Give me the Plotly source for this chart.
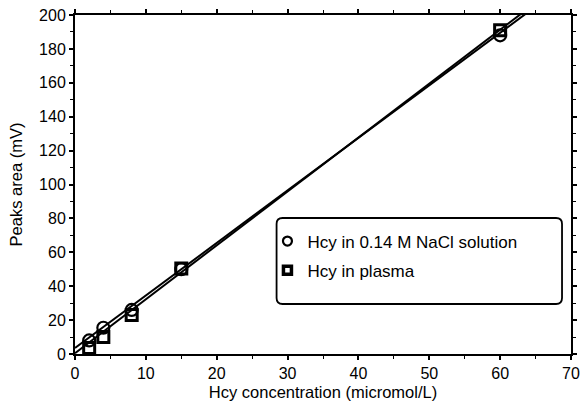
import plotly.graph_objects as go
import numpy as np

# Data
conc = [2, 4, 8, 15, 60]
nacl_area = [8, 15.5, 26, 50, 188]
plasma_area = [3.5, 10, 23, 50.5, 191]

# Regression lines (intercept, slope)
nacl_fit = (3.5, 3.1)
plasma_fit = (0.5, 3.18)
fit_x = [0, 70]

x_ticks = [0, 10, 20, 30, 40, 50, 60, 70]
y_ticks = [0, 20, 40, 60, 80, 100, 120, 140, 160, 180, 200]

series_names = ["Hcy in 0.14 M NaCl solution", "Hcy in plasma"]

FONT = "Liberation Sans, Arial, sans-serif"

fig = go.Figure()

for b, m in (nacl_fit, plasma_fit):
    fx = np.array(fit_x, dtype=float)
    fig.add_trace(go.Scatter(x=fx, y=b + m * fx, mode="lines",
                             line=dict(color="black", width=2),
                             showlegend=False, hoverinfo="skip"))

circle_style = dict(symbol="circle-open", color="black")
square_style = dict(symbol="square-open", color="black")

fig.add_trace(go.Scatter(x=conc, y=nacl_area, mode="markers", name=series_names[0],
                         marker=dict(size=12, line=dict(width=2.2, color="black"), **circle_style),
                         showlegend=False))
fig.add_trace(go.Scatter(x=conc, y=plasma_area, mode="markers", name=series_names[1],
                         marker=dict(size=11, line=dict(width=3, color="black"), **square_style),
                         showlegend=False))

# legend entries (smaller symbols, as in the reference legend)
fig.add_trace(go.Scatter(x=[None], y=[None], mode="markers", name=series_names[0],
                         marker=dict(size=9, line=dict(width=2.2, color="black"), **circle_style),
                         legendgroup="a"))
fig.add_trace(go.Scatter(x=[None], y=[None], mode="markers", name=series_names[1],
                         marker=dict(size=8, line=dict(width=3.5, color="black"), **square_style),
                         legendgroup="b"))

# rounded legend box (paper coords)
L, R, T, B = 0.4064, 0.9819, 0.4012, 0.1475
rx, ry = 0.012, 0.0177
path = (f"M {L+rx},{T} L {R-rx},{T} Q {R},{T} {R},{T-ry} "
        f"L {R},{B+ry} Q {R},{B} {R-rx},{B} L {L+rx},{B} Q {L},{B} {L},{B+ry} "
        f"L {L},{T-ry} Q {L},{T} {L+rx},{T} Z")
fig.add_shape(type="path", path=path, xref="paper", yref="paper",
              line=dict(color="black", width=1.8), fillcolor="white", layer="below")

axis_common = dict(showline=True, linecolor="black", linewidth=2, mirror="ticks",
                   ticks="outside", ticklen=4, tickwidth=1.5, tickcolor="black",
                   showgrid=False, zeroline=False, automargin=False,
                   tickfont=dict(family=FONT, size=16, color="black"))

fig.update_xaxes(range=[0, 70], tickvals=x_ticks,
                 minor=dict(dtick=5, ticks="outside", ticklen=3, tickwidth=1.2, tickcolor="black"),
                 title=dict(text="Hcy concentration (micromol/L)",
                            font=dict(family=FONT, size=16.5, color="black"), standoff=5),
                 **axis_common)
fig.update_yaxes(range=[0, 200], tickvals=y_ticks,
                 minor=dict(dtick=10, ticks="outside", ticklen=3, tickwidth=1.2, tickcolor="black"),
                 title=dict(text="Peaks area (mV)",
                            font=dict(family=FONT, size=16.5, color="black"), standoff=12),
                 **axis_common)

fig.update_layout(
    width=581, height=410,
    margin=dict(l=75, r=10, t=15, b=56),
    plot_bgcolor="white", paper_bgcolor="white",
    showlegend=True, hovermode=False,
    legend=dict(x=0.388, y=0.385, xanchor="left", yanchor="top",
                bgcolor="rgba(0,0,0,0)", borderwidth=0,
                font=dict(family=FONT, size=17, color="black"),
                tracegroupgap=4),
)

fig.write_html("out.html", config={"displayModeBar": False},
               post_script="document.body.style.margin='0';document.body.style.overflow='hidden';")
